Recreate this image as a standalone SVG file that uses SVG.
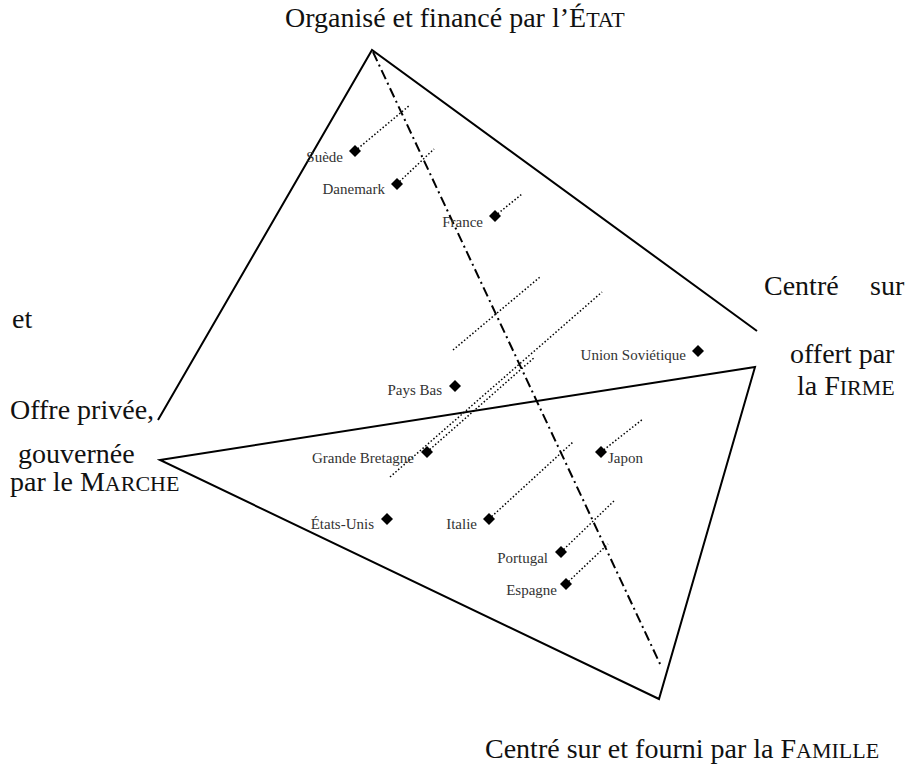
<svg xmlns="http://www.w3.org/2000/svg" width="914" height="769" viewBox="0 0 914 769">
<style>
text{font-family:"Liberation Serif","DejaVu Serif",serif;fill:#111}
.big{font-size:28px}
.lab{font-size:15px;fill:#333}
.sc{font-size:22px}
.solid{fill:none;stroke:#000;stroke-width:2}
.axis{fill:none;stroke:#000;stroke-width:2;stroke-dasharray:10 4 2 4}
.dot{fill:none;stroke:#000;stroke-width:1.5;stroke-dasharray:1.5 2.1}
.dia{fill:#000}
</style>
<defs>
<polygon id="dm" points="0,-6 6,0 0,6 -6,0"/>
</defs>
<rect width="914" height="769" fill="#fff"/>
<g id="connectors">
<polyline class="solid" points="158,420 372,50 757,331"/>
<polygon class="solid" points="160,460 755,367 659,699"/>
<line class="axis" x1="373" y1="52" x2="661" y2="666"/>
<line class="dot" x1="355" y1="151" x2="410" y2="105"/>
<line class="dot" x1="397" y1="184" x2="434" y2="149"/>
<line class="dot" x1="495" y1="216" x2="522" y2="194"/>
<line class="dot" x1="453" y1="350" x2="540" y2="277"/>
<line class="dot" x1="390" y1="477" x2="602" y2="292"/>
<line class="dot" x1="427" y1="452" x2="535" y2="357"/>
<line class="dot" x1="601" y1="452" x2="643" y2="419"/>
<line class="dot" x1="489" y1="519" x2="573" y2="442"/>
<line class="dot" x1="561" y1="552" x2="615" y2="500"/>
<line class="dot" x1="566" y1="584" x2="608" y2="544"/>
</g>
<g id="etat"><text class="big" x="285" y="27">Organisé et financé par l’É<tspan class="sc">TAT</tspan></text></g>
<g id="firme">
<text class="big" x="764" y="295">Centré</text>
<text class="big" x="870" y="295">sur</text>
<text class="big" x="12" y="328">et</text>
<text class="big" x="790" y="363">offert par</text>
<text class="big" x="797" y="395">la F<tspan class="sc">IRME</tspan></text>
</g>
<g id="marche">
<text class="big" x="10" y="419">Offre privée,</text>
<text class="big" x="18" y="463">gouvernée</text>
<text class="big" x="10" y="491">par le M<tspan class="sc">ARCHE</tspan></text>
</g>
<g id="famille"><text class="big" x="485" y="758">Centré sur et fourni par la F<tspan class="sc">AMILLE</tspan></text></g>
<g id="suede"><use href="#dm" x="355" y="151" class="dia"/><text class="lab" x="343" y="162" text-anchor="end">Suède</text></g>
<g id="danemark"><use href="#dm" x="397" y="184" class="dia"/><text class="lab" x="385" y="194" text-anchor="end">Danemark</text></g>
<g id="france"><use href="#dm" x="495" y="216" class="dia"/><text class="lab" x="483" y="227" text-anchor="end">France</text></g>
<g id="urss"><use href="#dm" x="698" y="351" class="dia"/><text class="lab" x="686" y="360" text-anchor="end">Union Soviétique</text></g>
<g id="paysbas"><use href="#dm" x="455" y="386" class="dia"/><text class="lab" x="442" y="395" text-anchor="end">Pays Bas</text></g>
<g id="gb"><use href="#dm" x="427" y="452" class="dia"/><text class="lab" x="414" y="463" text-anchor="end">Grande Bretagne</text></g>
<g id="japon"><use href="#dm" x="601" y="452" class="dia"/><text class="lab" x="608" y="463">Japon</text></g>
<g id="usa"><use href="#dm" x="387" y="519" class="dia"/><text class="lab" x="374" y="529" text-anchor="end">États-Unis</text></g>
<g id="italie"><use href="#dm" x="489" y="519" class="dia"/><text class="lab" x="477" y="529" text-anchor="end">Italie</text></g>
<g id="portugal"><use href="#dm" x="561" y="552" class="dia"/><text class="lab" x="548" y="563" text-anchor="end">Portugal</text></g>
<g id="espagne"><use href="#dm" x="566" y="584" class="dia"/><text class="lab" x="557" y="595" text-anchor="end">Espagne</text></g>
</svg>
